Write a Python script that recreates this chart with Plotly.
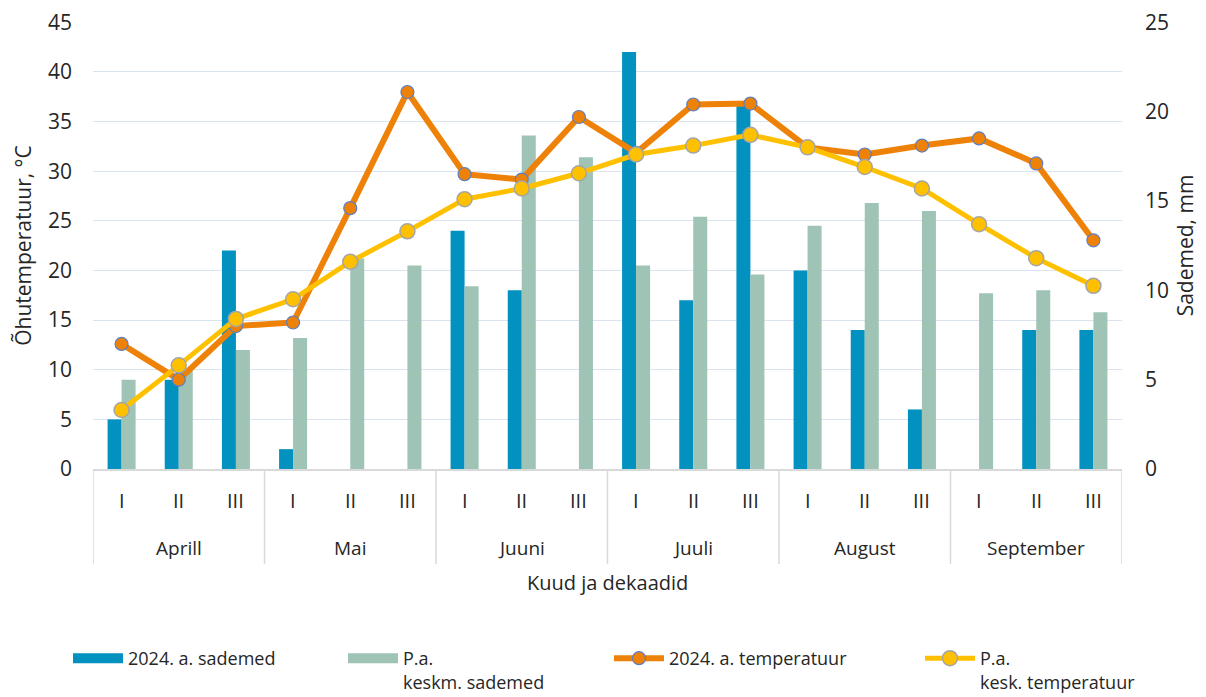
import plotly.graph_objects as go

months = ["Aprill", "Mai", "Juuni", "Juuli", "August", "September"]
dekaads = ["I", "II", "III"]

precip_2024 = [5, 9, 22, 2, 0, 0, 24, 18, 0, 42, 17, 36.6, 20, 14, 6, 0, 14, 14]
precip_avg = [9, 10, 12, 13.2, 21.2, 20.5, 18.4, 33.6, 31.4, 20.5, 25.4, 19.6, 24.5, 26.8, 26.0, 17.7, 18.0, 15.8]
temp_2024 = [7.0, 5.0, 8.0, 8.2, 14.6, 21.1, 16.5, 16.2, 19.7, 17.7, 20.4, 20.45, 18.0, 17.6, 18.1, 18.5, 17.1, 12.8]
temp_avg = [3.3, 5.8, 8.4, 9.5, 11.6, 13.3, 15.1, 15.7, 16.55, 17.6, 18.1, 18.7, 18.0, 16.9, 15.7, 13.7, 11.8, 10.25]

left_ticks = list(range(0, 46, 5))
right_ticks = list(range(0, 26, 5))

FONT = "Open Sans"
TXT = "#262626"
BLUE, GREEN, ORANGE, YELLOW = "#0391C0", "#9FC3B4", "#EE8208", "#FFC000"
# page body has an 8px margin; figure sized to fit the visible window
W, H = 1198, 689

n = len(months) * len(dekaads)
xs = list(range(n))
dek_labels = [d for m in months for d in dekaads]

fig = go.Figure()
fig.add_trace(go.Bar(x=xs, y=precip_2024, name="2024. a. sademed", showlegend=False,
                     marker=dict(color=BLUE, line=dict(width=0)), yaxis="y"))
fig.add_trace(go.Bar(x=xs, y=precip_avg, name="P.a. keskm. sademed", showlegend=False,
                     marker=dict(color=GREEN, line=dict(width=0)), yaxis="y"))
fig.add_trace(go.Scatter(x=xs, y=temp_2024, name="2024. a. temperatuur", yaxis="y2", legend="legend3",
                         mode="lines+markers",
                         line=dict(color=ORANGE, width=6),
                         marker=dict(color=ORANGE, size=13, line=dict(color="#5B7FC4", width=1.2))))
fig.add_trace(go.Scatter(x=xs, y=temp_avg, name="P.a.<br>kesk. temperatuur", yaxis="y2", legend="legend4",
                         mode="lines+markers",
                         line=dict(color=YELLOW, width=5),
                         marker=dict(color=YELLOW, size=15, line=dict(color="#A5A5A5", width=1.5))))
# legend swatches for the bar series (wide rectangles as in the reference)
fig.add_trace(go.Scatter(x=[None], y=[None], mode="lines", name="2024. a. sademed", legend="legend",
                         line=dict(color=BLUE, width=15), hoverinfo="skip"))
fig.add_trace(go.Scatter(x=[None], y=[None], mode="lines", name="P.a.<br>keskm. sademed", legend="legend2",
                         line=dict(color=GREEN, width=15), hoverinfo="skip"))

H_PLOT = 447.0
def py(pix_below):
    return -pix_below / H_PLOT

annotations = []
for i, lab in enumerate(dek_labels):
    annotations.append(dict(x=i, y=py(31), xref="x", yref="paper", text=lab, showarrow=False,
                            font=dict(family=FONT, size=20, color=TXT), yanchor="middle"))
for j, m in enumerate(months):
    annotations.append(dict(x=j * 3 + 1, y=py(79), xref="x", yref="paper", text=m, showarrow=False,
                            font=dict(family=FONT, size=19, color=TXT), yanchor="middle"))
annotations.append(dict(x=0.5, y=py(113), xref="paper", yref="paper", text="Kuud ja dekaadid",
                        showarrow=False, font=dict(family=FONT, size=20, color=TXT), yanchor="middle"))

shapes = []
for j in range(len(months) + 1):
    xv = j * 3 - 0.5
    shapes.append(dict(type="line", xref="x", yref="paper", x0=xv, x1=xv, y0=0, y1=py(95),
                       line=dict(color="#D9D9D9", width=1.5)))

def leg(xpix):
    return dict(orientation="h", xref="container", yref="container",
                x=xpix / W, xanchor="left", y=1 - 632 / H, yanchor="top",
                font=dict(family=FONT, size=18, color=TXT), itemwidth=50,
                bgcolor="rgba(0,0,0,0)", valign="top")

fig.update_layout(
    width=W, height=H,
    margin=dict(l=85, r=84, t=14, b=228, autoexpand=False),
    paper_bgcolor="white", plot_bgcolor="white",
    barmode="group", bargap=0.51, bargroupgap=0,
    font=dict(family=FONT, color=TXT),
    xaxis=dict(range=[-0.5, n - 0.5], showticklabels=False, ticks="", showgrid=False,
               zeroline=False, showline=True, linecolor="#D9D9D9", linewidth=1.5),
    yaxis=dict(range=[0, 45.03], tickvals=left_ticks, showgrid=True, gridcolor="#DCE3F0", gridwidth=1,
               zeroline=False, showline=False, ticks="", ticklabelstandoff=20,
               ticklabeloverflow="allow",
               tickfont=dict(family=FONT, size=21, color=TXT),
               title=dict(text="Õhutemperatuur, °C", font=dict(family=FONT, size=21, color=TXT), standoff=10)),
    yaxis2=dict(range=[0, 25 * 45.03 / 45], tickvals=right_ticks, overlaying="y", side="right", showgrid=False,
                zeroline=False, showline=False, ticks="", ticklabelstandoff=22,
                ticklabeloverflow="allow",
                tickfont=dict(family=FONT, size=21, color=TXT),
                title=dict(text="Sademed, mm", font=dict(family=FONT, size=21, color=TXT), standoff=10)),
    legend=leg(60),
    legend2=leg(335),
    legend3=leg(601),
    legend4=leg(912),
    annotations=annotations,
    shapes=shapes,
)

fig.write_html("out.html")
